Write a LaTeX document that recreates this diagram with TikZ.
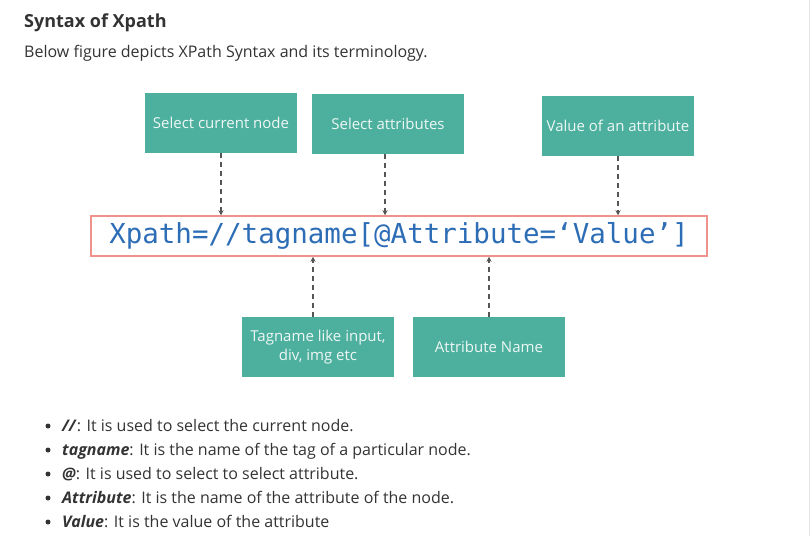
\documentclass[tikz,border=0pt]{standalone}
\usepackage{fontspec}
\setmainfont{Open Sans}
\newfontfamily\codefont{DejaVu Sans Mono}
\usetikzlibrary{arrows.meta}
\definecolor{ink}{HTML}{333333}
\definecolor{tealfill}{HTML}{4DB09E}
\definecolor{tealtext}{HTML}{EEF7F5}
\definecolor{exprline}{HTML}{F0928C}
\definecolor{exprtext}{HTML}{2C6DB6}
\definecolor{linkline}{HTML}{555555}
\definecolor{sideline}{HTML}{E6E6E6}
\newcommand{\boxfont}{\fontsize{15}{19}\selectfont}
\newcommand{\bodyfont}{\fontsize{16}{20}\selectfont}
\tikzset{
 every node/.append style={text=ink,inner sep=0pt},
 term/.style={fill=tealfill,text=tealtext,font=\boxfont,align=center,minimum width=152pt,minimum height=60pt},
 expr/.style={draw=exprline,line width=1.5pt,text=exprtext,font=\codefont\fontsize{27.5}{30}\selectfont,minimum width=616pt,minimum height=40pt},
 link/.style={-{Stealth[length=5pt,width=5pt]},draw=linkline,line width=1.1pt,dash pattern=on 5pt off 4pt},
 item/.style={anchor=base west,font=\bodyfont},
 dot/.style={circle,fill=ink,minimum size=5pt},
}

\begin{document}
\begin{tikzpicture}[x=1pt,y=-1pt]
\useasboundingbox (0,0) rectangle (811,536);
\draw[sideline,line width=1.5pt] (809.5,0) -- (809.5,536);

\node[anchor=base west,font=\fontsize{18}{22}\selectfont\bfseries] (title) at (24,27) {Syntax of Xpath};
\node[anchor=base west,font=\bodyfont] (intro) at (24,57) {Below figure depicts XPath Syntax and its terminology.};

\node[term] (curnode) at (221,123) {Select current node};
\node[term] (attrsel) at (388,123.5) {Select attributes};
\node[term] (attrval) at (618,126) {Value of an attribute};

\node[expr] (expr) at (399,236) {Xpath=//tagname[@Attribute=‘Value’]};

\node[term] (tagname) at (318,347) {Tagname like input,\\div, img etc};
\node[term] (attrname) at (489,347) {Attribute Name};

\draw[link] (curnode) -- (curnode |- expr.north);
\draw[link] ([xshift=-3pt]attrsel.south) -- ([xshift=-3pt]attrsel.south |- expr.north);
\draw[link] (attrval) -- (attrval |- expr.north);
\draw[link] ([xshift=-5pt]tagname.north) -- ([xshift=-5pt]tagname.north |- expr.south);
\draw[link] (attrname) -- (attrname |- expr.south);

\node[dot] (b1) at (48,426) {};
\node[dot] (b2) at (48,450) {};
\node[dot] (b3) at (48,474) {};
\node[dot] (b4) at (48,498) {};
\node[dot] (b5) at (48,522) {};
\node[item] (item1) at (62,431) {\textbf{\textit{//}}: It is used to select the current node.};
\node[item] (item2) at (62,455) {\textbf{\textit{tagname}}: It is the name of the tag of a particular node.};
\node[item] (item3) at (62,479) {\textbf{\textit{@}}: It is used to select to select attribute.};
\node[item] (item4) at (62,503) {\textbf{\textit{Attribute}}: It is the name of the attribute of the node.};
\node[item] (item5) at (62,527) {\textbf{\textit{Value}}: It is the value of the attribute};
\end{tikzpicture}
\end{document}
